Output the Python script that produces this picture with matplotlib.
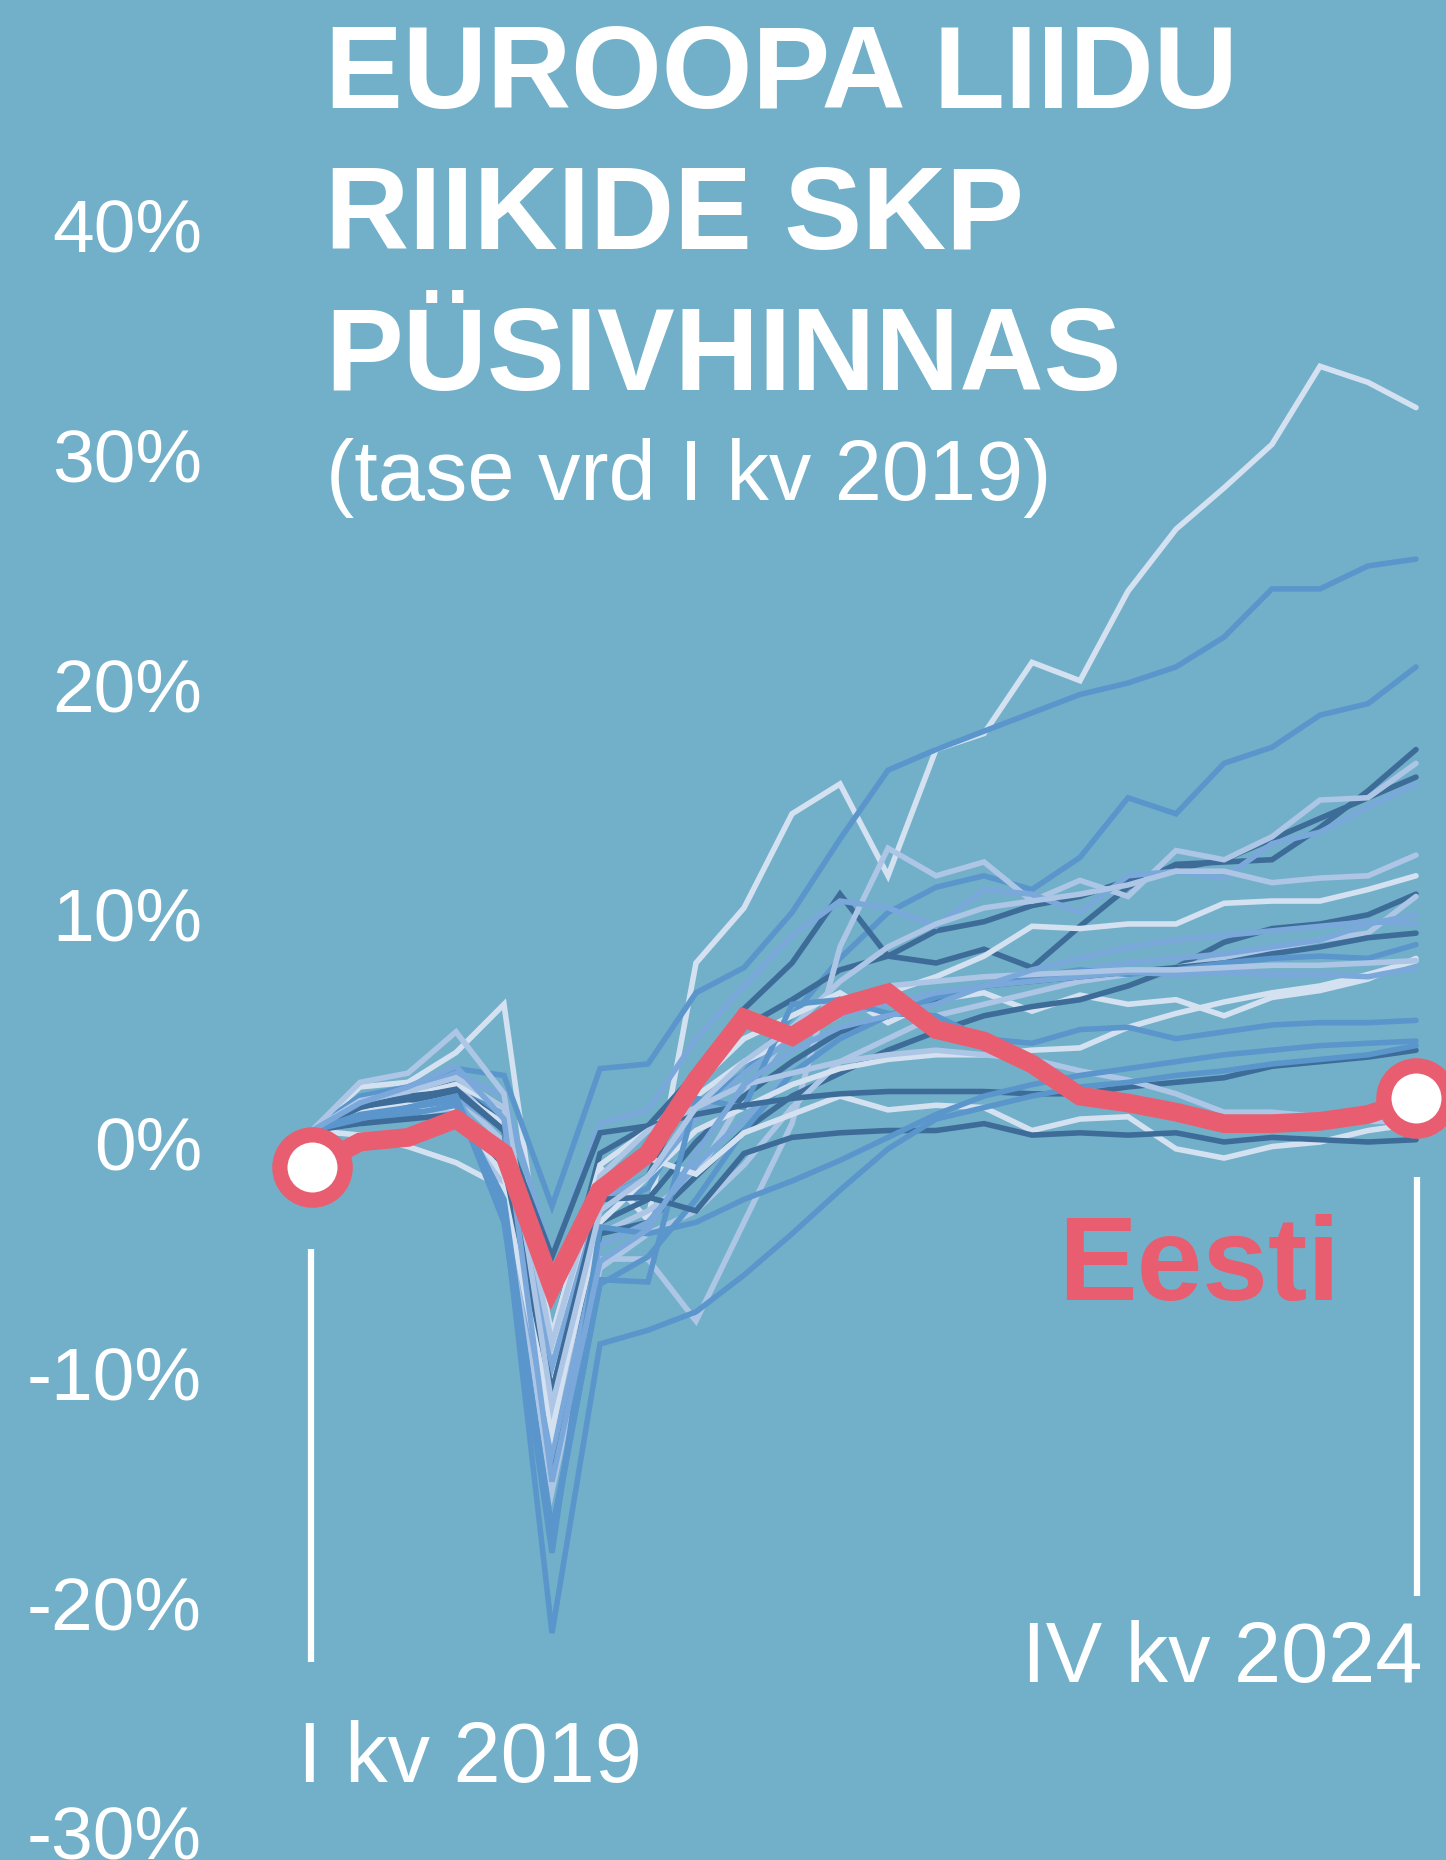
import matplotlib
matplotlib.use("Agg")
import matplotlib.pyplot as plt

# ---------------- data (level vs I kv 2019, %) ----------------
quarters = [f"{q} kv {y}" for y in range(2019, 2025) for q in ["I", "II", "III", "IV"]]
first_label = "I kv 2019"
last_label = "IV kv 2024"

estonia = [-1.1, 0.0, 0.2, 1.0, -0.5, -6.3, -2.1, -0.5, 2.7, 5.4, 4.6, 5.9,
           6.5, 4.9, 4.4, 3.4, 2.0, 1.7, 1.3, 0.8, 0.8, 0.9, 1.2, 1.9]

s01 = [0.5, 2.4, 2.6, 3.9, 6.0, -8.9, -1.1, -3.4, 7.8, 10.2, 14.3, 15.6, 11.6, 17.1, 17.8, 20.9, 20.1, 24.0, 26.7, 28.5, 30.4, 33.8, 33.1, 32.0]
s02 = [0.5, 2.0, 2.4, 3.2, 2.9, -2.8, 3.2, 3.4, 6.5, 7.6, 10.0, 13.2, 16.2, 17.1, 17.9, 18.7, 19.5, 20.0, 20.7, 22.0, 24.1, 24.1, 25.1, 25.4]
s03 = [0.5, 1.2, 1.8, 2.5, 1.0, -9.9, -3.0, -2.0, 1.6, 3.0, 5.5, 8.0, 10.0, 11.1, 11.6, 11.0, 12.4, 15.0, 14.3, 16.5, 17.2, 18.6, 19.1, 20.7]
s04 = [0.5, 1.0, 1.6, 2.4, 0.8, -10.9, -2.5, -1.5, 3.1, 5.8, 7.8, 10.8, 8.1, 7.8, 8.4, 7.6, 9.4, 11.1, 12.1, 12.2, 12.3, 13.7, 15.3, 17.1]
s05 = [0.5, 1.3, 2.0, 2.8, 1.5, -8.5, -0.5, 0.7, 3.0, 5.0, 6.2, 7.5, 8.1, 9.2, 9.6, 10.3, 10.7, 11.4, 11.9, 12.3, 13.2, 14.1, 15.0, 15.9]
s06 = [0.5, 1.5, 2.0, 2.5, 0.5, -11.7, -5.1, -5.1, -7.8, -3.5, 0.8, 8.5, 12.8, 11.6, 12.2, 10.5, 11.4, 10.7, 12.7, 12.3, 13.3, 14.9, 15.0, 16.5]
s07 = [0.5, 1.6, 2.2, 3.0, 2.0, -5.0, 0.8, 1.4, 4.5, 6.8, 9.0, 10.5, 10.2, 9.4, 11.0, 10.8, 10.0, 11.6, 11.8, 11.5, 13.0, 13.5, 14.6, 15.6]
s08 = [0.5, 1.0, 1.5, 2.0, 0.0, -12.6, -4.0, -3.0, -1.5, 2.0, 5.0, 7.0, 8.5, 9.5, 10.2, 10.5, 10.8, 11.2, 11.8, 11.8, 11.3, 11.5, 11.6, 12.5]
s09 = [0.5, 1.5, 2.0, 2.5, 1.5, -8.4, -1.0, 0.5, 2.0, 3.5, 4.5, 5.5, 6.5, 7.2, 8.1, 9.4, 9.3, 9.5, 9.5, 10.4, 10.5, 10.5, 11.0, 11.6]
s10 = [0.5, 1.2, 1.8, 2.2, 0.8, -9.9, -2.0, -0.5, 2.5, 4.5, 5.5, 6.5, 5.2, 6.2, 6.5, 5.7, 6.4, 6.0, 6.2, 5.5, 6.3, 6.6, 7.1, 8.0]
s11 = [0.5, 1.4, 1.9, 2.3, 0.5, -14.3, -4.0, -3.5, -1.5, 0.5, 2.0, 3.0, 4.0, 4.8, 5.5, 5.9, 6.2, 6.8, 7.6, 8.7, 9.3, 9.5, 9.9, 10.8]
s12 = [0.5, 0.8, 1.2, 1.5, -2.0, -15.2, -5.5, -4.0, -3.0, -1.0, 1.5, 3.5, 4.5, 5.5, 6.0, 6.5, 7.0, 7.3, 7.6, 8.0, 8.4, 8.8, 9.1, 10.7]
s13 = [0.5, 1.1, 1.6, 2.0, -1.5, -13.6, -4.5, -3.5, -1.0, 1.0, 3.0, 4.5, 5.5, 6.2, 6.8, 7.2, 7.5, 7.8, 8.0, 8.2, 8.5, 8.8, 9.5, 9.9]
s14 = [0.5, 1.2, 1.8, 2.2, 0.5, -11.1, -3.5, -2.5, 0.0, 2.0, 3.5, 4.8, 5.5, 6.2, 6.8, 7.0, 7.2, 7.4, 7.6, 7.8, 8.2, 8.5, 8.9, 9.1]
s15 = [0.5, 1.0, 1.4, 1.9, -3.0, -16.9, -6.2, -5.0, -2.5, 0.5, 3.0, 4.5, 5.5, 6.3, 6.8, 7.2, 7.5, 7.3, 7.5, 7.8, 8.0, 8.1, 8.0, 8.6]
s16 = [0.5, 1.3, 1.6, 1.5, -1.5, -12.2, -3.5, -1.5, 0.5, 1.5, 2.5, 3.2, 3.6, 3.8, 3.8, 4.0, 4.1, 5.0, 5.6, 6.1, 6.5, 6.8, 7.3, 7.9]
s17 = [0.5, 0.3, -0.2, -0.9, -2.0, -12.6, -2.5, -0.7, -1.4, 0.4, 1.2, 2.0, 1.4, 1.6, 1.5, 0.5, 1.0, 1.1, -0.3, -0.7, -0.2, 0.0, 0.5, 0.8]
s18 = [0.5, 1.0, 1.5, 2.0, 0.5, -9.8, -2.5, -1.5, 1.0, 3.0, 4.5, 5.5, 6.0, 6.5, 6.8, 7.0, 7.2, 7.4, 7.3, 7.4, 7.3, 7.3, 7.2, 7.6]
s19 = [0.5, 0.9, 1.2, 1.6, -2.5, -17.3, -6.0, -6.1, 1.9, 1.5, 6.0, 6.2, 5.6, 5.5, 4.5, 4.3, 4.9, 5.0, 4.5, 4.8, 5.1, 5.2, 5.2, 5.3]
s20 = [0.5, 1.5, 2.0, 2.2, 0.5, -5.0, 0.4, 0.7, 1.2, 1.6, 1.9, 2.1, 2.2, 2.2, 2.2, 2.1, 2.1, 2.4, 2.6, 2.8, 3.3, 3.5, 3.7, 4.0]
s21 = [0.5, 0.8, 1.0, 1.2, -1.0, -10.9, -2.5, -2.4, -3.0, -0.5, 0.2, 0.4, 0.5, 0.5, 0.8, 0.3, 0.4, 0.3, 0.4, 0.0, 0.2, 0.1, 0.0, 0.1]
s22 = [0.5, 1.8, 2.2, 2.8, 1.5, -8.8, -1.5, 0.5, 1.5, 2.5, 3.0, 3.5, 3.8, 4.0, 3.8, 3.6, 3.1, 2.7, 2.1, 1.3, 1.3, 1.1, 0.9, 0.9]
s23 = [0.5, 1.0, 1.5, 2.0, -3.0, -21.4, -8.8, -8.2, -7.4, -5.8, -4.0, -2.1, -0.3, 1.0, 1.5, 2.0, 2.4, 2.6, 2.9, 3.1, 3.4, 3.6, 3.8, 4.2]
s24 = [0.5, 1.2, 1.5, 1.8, -3.5, -17.9, -3.7, -4.0, -3.5, -2.5, -1.7, -0.8, 0.2, 1.2, 2.0, 2.5, 2.9, 3.2, 3.5, 3.8, 4.0, 4.2, 4.3, 4.4]
s25 = [0.5, 2.6, 3.0, 4.8, 2.1, -11.5, -3.0, -1.5, 1.5, 3.5, 5.0, 6.0, 6.8, 7.0, 7.2, 7.3, 7.4, 7.5, 7.5, 7.6, 7.7, 7.7, 7.8, 7.9]
s26 = [0.5, 1.7, 2.4, 3.3, 1.0, -14.8, -5.2, -3.8, -0.5, 2.5, 4.0, 5.0, 5.5, 6.0, 6.8, 7.5, 8.0, 8.5, 8.8, 9.0, 9.2, 9.4, 9.6, 9.5]

others = [s01, s02, s03, s04, s05, s06, s07, s08, s09, s10, s11, s12, s13,
          s14, s15, s16, s17, s18, s19, s20, s21, s22, s23, s24, s25, s26]

y_ticks = [40, 30, 20, 10, 0, -10, -20, -30]
y_tick_labels = ["40%", "30%", "20%", "10%", "0%", "-10%", "-20%", "-30%"]

title_lines = ["EUROOPA LIIDU", "RIIKIDE SKP", "PÜSIVHINNAS"]
subtitle = "(tase vrd I kv 2019)"
highlight_label = "Eesti"

# ---------------- style ----------------
BG = "#72B0C9"
RED = "#E85E70"
DARK = "#3D6C98"
MID = "#5A96CC"
MIDL = "#7BA8DA"
LIGHT = "#ADC6E6"
VLIGHT = "#D4E1F1"
other_colors = [VLIGHT, MID, MID, DARK, DARK, LIGHT, MIDL, LIGHT, VLIGHT, VLIGHT,
                DARK, LIGHT, MIDL, DARK, MID, VLIGHT, VLIGHT, MIDL, MID, DARK,
                DARK, LIGHT, MID, MID, LIGHT, MIDL]

W, H = 1446, 1860
DPI = 100
X0_PX, DX_PX = 312, 48.0          # pixel of first quarter, px per quarter
Y0_PX, DY_PX = 1142, 22.95        # pixel of 0 %, px per 1 %

def px_to_x(px):
    return (px - X0_PX) / DX_PX

def px_to_y(py):
    return (Y0_PX - py) / DY_PX

plt.rcParams["font.family"] = ["Liberation Sans", "DejaVu Sans"]

fig = plt.figure(figsize=(W / DPI, H / DPI), dpi=DPI, facecolor=BG)
ax = fig.add_axes([0, 0, 1, 1])
ax.set_facecolor(BG)
ax.set_xlim(px_to_x(0), px_to_x(W))
ax.set_ylim(px_to_y(H), px_to_y(0))
ax.axis("off")

x = list(range(len(quarters)))

for vals, col in zip(others, other_colors):
    ax.plot(x, vals, color=col, lw=4.0, solid_joinstyle="miter",
            solid_capstyle="round", zorder=2)

ax.plot(x, estonia, color=RED, lw=13.5, solid_joinstyle="miter",
        solid_capstyle="butt", zorder=4)
ax.plot([x[0], x[-1]], [estonia[0], estonia[-1]], ls="none", marker="o",
        ms=47, mfc="white", mec=RED, mew=11, zorder=5)

# y tick labels
for v, lab in zip(y_ticks, y_tick_labels):
    ax.text(px_to_x(202), v - 28 / DY_PX, lab, ha="right", va="baseline",
            fontsize=54, color="white")

# title
for k, line in enumerate(title_lines):
    ax.text(px_to_x(325), px_to_y(108 + 141 * k), line, ha="left",
            va="baseline", fontsize=84, fontweight="bold", color="white")
ax.text(px_to_x(326), px_to_y(500), subtitle, ha="left", va="baseline",
        fontsize=61, color="white")

# start / end markers
ax.plot([px_to_x(311)] * 2, [px_to_y(1249), px_to_y(1662)], color="white",
        lw=4.5, solid_capstyle="butt", zorder=3)
ax.plot([px_to_x(1417)] * 2, [px_to_y(1177), px_to_y(1596)], color="white",
        lw=4.5, solid_capstyle="butt", zorder=3)
ax.text(px_to_x(298), px_to_y(1782), first_label, ha="left", va="baseline",
        fontsize=61, color="white")
ax.text(px_to_x(1422), px_to_y(1682), last_label, ha="right", va="baseline",
        fontsize=61, color="white")

ax.text(px_to_x(1058), px_to_y(1300), highlight_label, ha="left",
        va="baseline", fontsize=85, fontweight="bold", color=RED, zorder=6)

fig.savefig("out.png", dpi=DPI, facecolor=BG)
